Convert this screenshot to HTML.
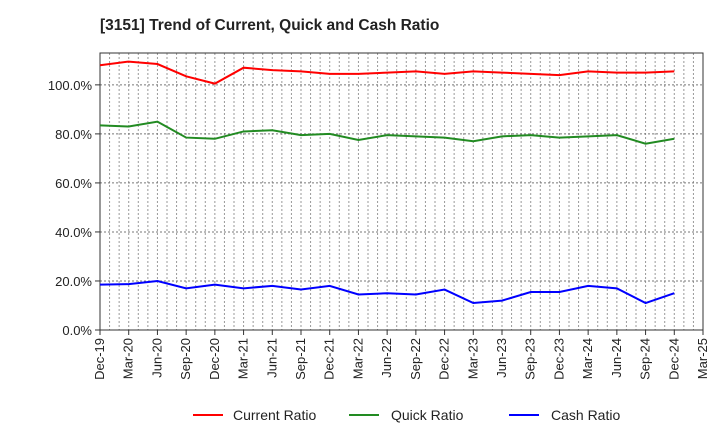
<!DOCTYPE html>
<html><head><meta charset="utf-8"><style>
body{margin:0;background:#fff;font-family:"Liberation Sans",Arial,sans-serif}
svg text{font-family:"Liberation Sans",Arial,sans-serif}
</style></head><body>
<svg id="c" width="720" height="440" xmlns="http://www.w3.org/2000/svg">
<text x="100" y="30" font-size="15.5" font-weight="bold" fill="#222">[3151]  Trend of Current, Quick and Cash Ratio</text>
<g id="grid"></g><g id="axes"></g><g id="series"></g>
<g>
<line x1="193" y1="415" x2="223" y2="415" stroke="#f00" stroke-width="2"/><text x="233" y="420" font-size="14" fill="#222">Current Ratio</text>
<line x1="349" y1="415" x2="379" y2="415" stroke="#228b22" stroke-width="2"/><text x="391" y="420" font-size="14" fill="#222">Quick Ratio</text>
<line x1="509" y1="415" x2="539" y2="415" stroke="#00f" stroke-width="2"/><text x="551" y="420" font-size="14" fill="#222">Cash Ratio</text>
</g>
</svg>
<script>
const categories=["Dec-19","Mar-20","Jun-20","Sep-20","Dec-20","Mar-21","Jun-21","Sep-21","Dec-21","Mar-22","Jun-22","Sep-22","Dec-22","Mar-23","Jun-23","Sep-23","Dec-23","Mar-24","Jun-24","Sep-24","Dec-24","Mar-25"];
const currentRatio=[108,109.5,108.5,103.5,100.5,107,106,105.5,104.5,104.5,105,105.5,104.5,105.5,105,104.5,104,105.5,105,105,105.5];
const quickRatio=[83.5,83,85,78.5,78,81,81.5,79.5,80,77.5,79.5,79,78.5,77,79,79.5,78.5,79,79.5,76,78];
const cashRatio=[18.5,18.7,20,17,18.5,17,18,16.5,18,14.5,15,14.5,16.5,11,12,15.5,15.5,18,17,11,15];
const yTicks=[0,20,40,60,80,100];
const L=100,R=703,T=53,B=330,YMAX=113;
const NS="http://www.w3.org/2000/svg";
const xs=i=>L+i*(R-L)/(categories.length-1);
const ys=v=>B-v*(B-T)/YMAX;
function mk(tag,attrs,parent){const e=document.createElementNS(NS,tag);for(const k in attrs)e.setAttribute(k,attrs[k]);parent.appendChild(e);return e;}
const grid=document.getElementById('grid'),axes=document.getElementById('axes'),ser=document.getElementById('series');
for(let m=1;m<(categories.length-1)*3;m++){const x=L+m*(R-L)/((categories.length-1)*3);
const g=mk('line',{x1:x,x2:x,y1:T,y2:B,stroke:'#999','stroke-dasharray':'2,2','stroke-width':1},grid);

}
yTicks.forEach(v=>{const y=ys(v);
if(v>0){const g=mk('line',{x1:L,x2:R,y1:y,y2:y,stroke:'#777','stroke-dasharray':'2,2'},grid);

}
mk('line',{x1:L-5,x2:L,y1:y,y2:y,stroke:'#333'},axes);
const t=mk('text',{x:L-8,y:y+5,'text-anchor':'end','font-size':13,fill:'#222'},axes);t.textContent=v.toFixed(1)+'%';

});
const fr=mk('rect',{x:L,y:T,width:R-L,height:B-T,fill:'none',stroke:'#333'},axes);


categories.forEach((c,i)=>{const x=xs(i);mk('line',{x1:x,x2:x,y1:B,y2:B+5,stroke:'#333'},axes);
const t=mk('text',{x:x+4,y:B+8,'text-anchor':'end','font-size':13,fill:'#222',transform:`rotate(-90 ${x+4} ${B+8})`},axes);t.textContent=c;

});
[[currentRatio,'#f00','current-ratio-line'],[quickRatio,'#228b22','quick-ratio-line'],[cashRatio,'#00f','cash-ratio-line']].forEach(([d,col,n])=>{
const p=mk('polyline',{points:d.map((v,i)=>xs(i)+','+ys(v)).join(' '),fill:'none',stroke:col,'stroke-width':2},ser);

});
</script>
</body></html>
